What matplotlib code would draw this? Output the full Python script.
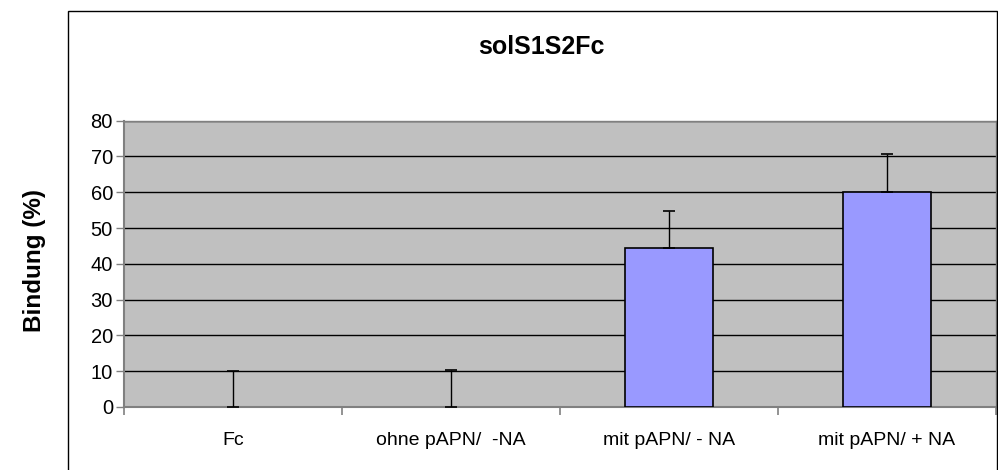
import matplotlib
matplotlib.use("Agg")
import matplotlib.pyplot as plt
from matplotlib.patches import Rectangle
import numpy as np

categories = ["Fc", "ohne pAPN/  -NA", "mit pAPN/ - NA", "mit pAPN/ + NA"]
values = [0.0, 0.0, 44.5, 60.2]
errors = [10.0, 10.4, 10.2, 10.4]
yticks = [0, 10, 20, 30, 40, 50, 60, 70, 80]

plt.rcParams['font.family'] = ['Liberation Sans', 'DejaVu Sans']

fig = plt.figure(figsize=(9.98, 4.70), dpi=100)
W, H = 998, 470
# outer chart frame
fig.patches.append(Rectangle((68 / W, -0.05), (997 - 68) / W, 1 - 11 / H + 0.05,
                             transform=fig.transFigure, fill=False,
                             edgecolor='black', linewidth=1.0))

ax = fig.add_axes([124 / W, 1 - 407 / H, (996 - 124) / W, (407 - 120.7) / H])
ax.set_facecolor('#C0C0C0')
x = np.arange(len(categories))
edges = ['none' if v == 0 else 'black' for v in values]
ax.bar(x, values, width=0.4, color='#9999FF', edgecolor=edges, linewidth=1.2, zorder=3)
ax.errorbar(x, values, yerr=[np.zeros(len(errors)), errors], fmt='none',
            ecolor='black', elinewidth=1.0, capsize=4, capthick=1.2, zorder=4)
ax.set_xlim(-0.5, len(categories) - 0.5)
ax.set_ylim(0, 80)
ax.set_yticks(yticks)
ax.set_yticklabels([str(t) for t in yticks], fontsize=14.5)
ax.yaxis.grid(True, color='black', linewidth=1.0, zorder=1)
ax.set_axisbelow(True)
ax.set_xticks(np.arange(-0.5, len(categories), 1.0))
ax.set_xticklabels([])
ax.set_xticks(x, minor=True)
ax.set_xticklabels(categories, minor=True, fontsize=14)
ax.tick_params(axis='x', which='minor', length=0, pad=18)
ax.tick_params(axis='x', which='major', length=6, width=1.2, color='#808080', direction='out')
ax.tick_params(axis='y', length=6, width=1.0, color='#808080', direction='out', pad=2)
for s in ['left', 'bottom']:
    ax.spines[s].set_color('#808080')
    ax.spines[s].set_linewidth(1.5)
for s in ['top', 'right']:
    ax.spines[s].set_color('#808080')
    ax.spines[s].set_linewidth(1.0)

fig.text(541 / W, 1 - 47 / H, "solS1S2Fc", ha='center', va='center',
         fontsize=18, fontweight='bold')
fig.text(35 / W, 1 - 261 / H, "Bindung (%)", ha='center', va='center',
         rotation=90, fontsize=17.5, fontweight='bold')

fig.savefig("out.png", dpi=100)
